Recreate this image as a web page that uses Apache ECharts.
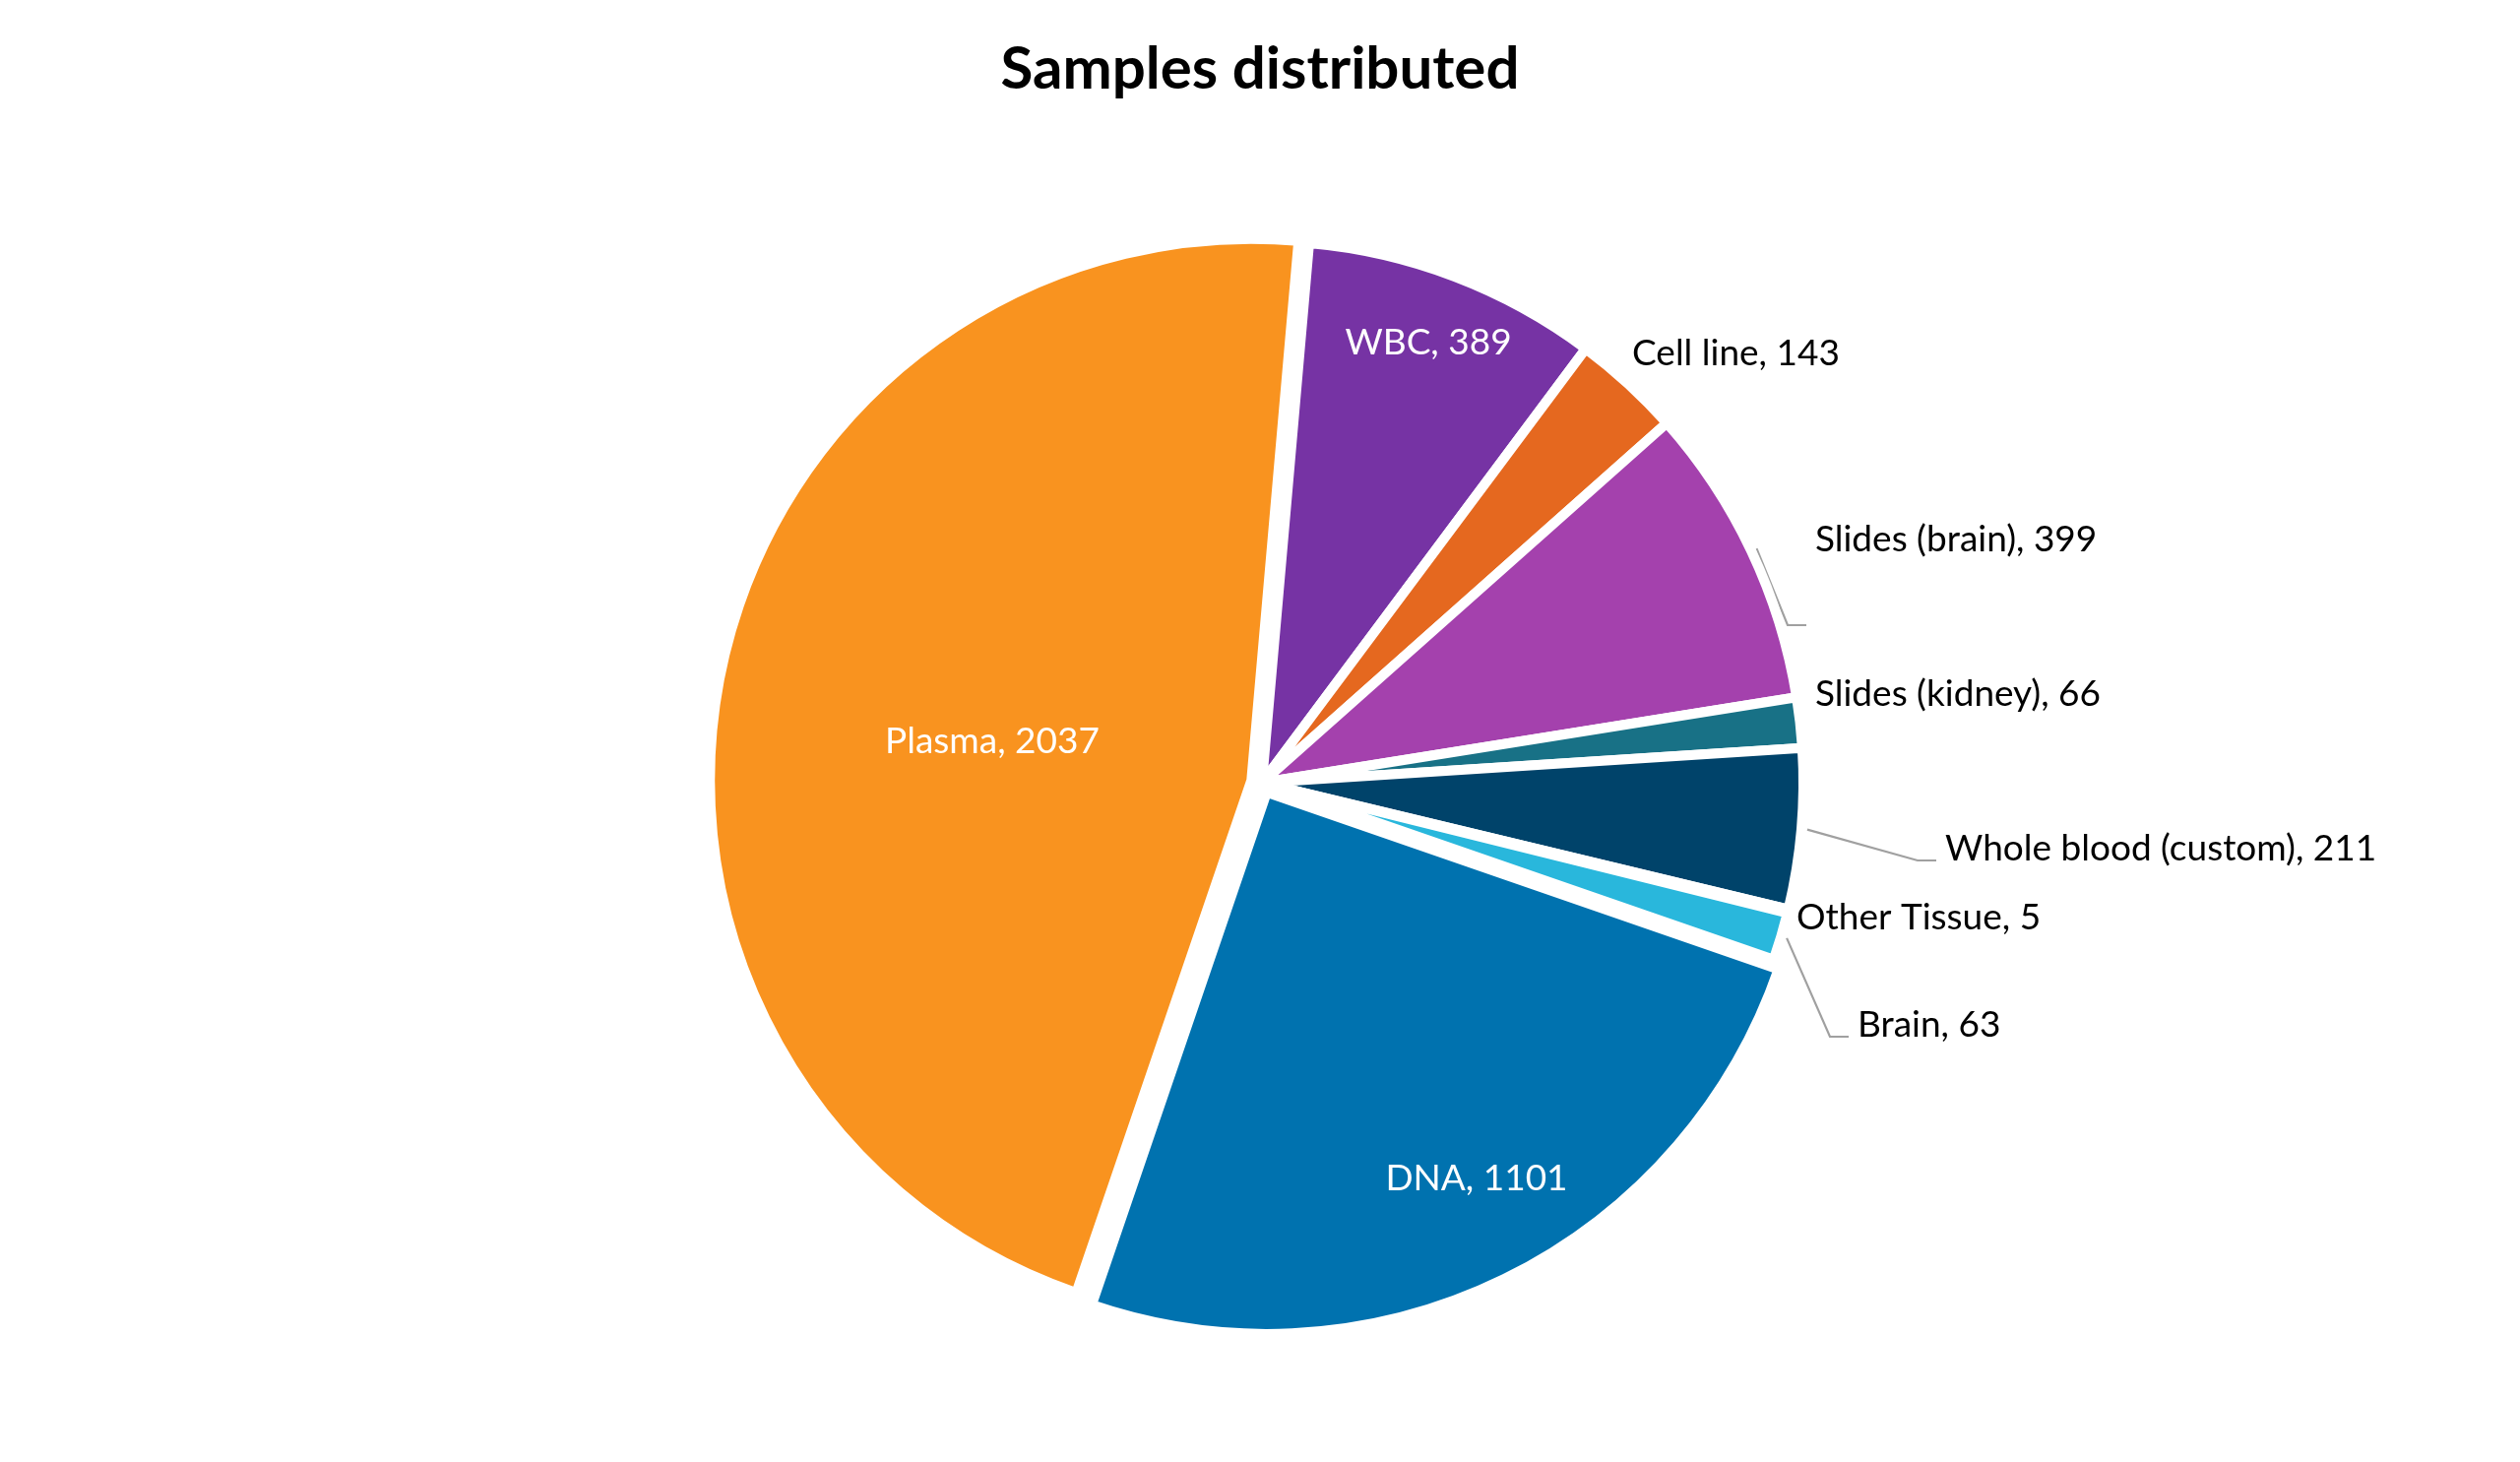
<!DOCTYPE html>
<html>
<head>
<meta charset="utf-8">
<script src="https://cdn.jsdelivr.net/npm/echarts@6/dist/echarts.min.js"></script>
<style>
html,body{margin:0;padding:0;background:#fff;}
#chart{width:2560px;height:1485px;}
</style>
</head>
<body>
<div id="chart"></div>
<script>
// ---- data (clockwise from just right of 12 o'clock) ----
const categories = ['WBC', 'Cell line', 'Slides (brain)', 'Slides (kidney)', 'Whole blood (custom)', 'Other Tissue', 'Brain', 'DNA', 'Plasma'];
const values = [389, 143, 399, 66, 211, 5, 63, 1101, 2037];
const sliceColors = ['#7633A4', '#E5681F', '#A441AD', '#187186', '#00436A', '#9DC3E6', '#29B7DC', '#0072AF', '#F9931F'];
const chartTitle = 'Samples distributed';

const chart = echarts.init(document.getElementById('chart'));

// label placement (left-aligned outside labels, centered inside labels)
const labelAt = {
  'WBC': { x: 1451, y: 348, align: 'center' },
  'Plasma': { x: 1008, y: 753, align: 'center' },
  'DNA': { x: 1500, y: 1197, align: 'center' },
  'Cell line': { x: 1658, y: 359 },
  'Slides (brain)': { x: 1844, y: 548, lineDy: 87 },
  'Slides (kidney)': { x: 1844, y: 705 },
  'Whole blood (custom)': { x: 1976, y: 862, lineDy: 12 },
  'Other Tissue': { x: 1825, y: 932 },
  'Brain': { x: 1887, y: 1041, lineDy: 12 }
};
const insideNames = ['WBC', 'Plasma', 'DNA'];
const withLine = ['Slides (brain)', 'Whole blood (custom)', 'Brain'];
const exploded = ['Plasma', 'DNA'];

const pieCenter = [1282, 795];
const pieRadius = [0, 550];
const pieStart = 85;

// visible slices (no labels)
const sliceData = categories.map((name, i) => ({
  name: name,
  value: values[i],
  selected: exploded.includes(name),
  itemStyle: { color: sliceColors[i] }
}));

// label layer: same geometry, transparent slices
const labelData = categories.map((name, i) => ({
  name: name,
  value: values[i],
  label: insideNames.includes(name)
    ? { position: 'inside', color: '#ffffff' }
    : { position: 'outside', color: '#000000' },
  labelLine: { show: withLine.includes(name) }
}));

chart.setOption({
  backgroundColor: '#ffffff',
  animation: false,
  title: {
    text: chartTitle,
    left: 'center',
    top: 36,
    textStyle: { fontFamily: 'Lato', fontWeight: 'bold', fontSize: 60, color: '#000000' }
  },
  series: [{
    type: 'pie',
    center: pieCenter,
    radius: pieRadius,
    startAngle: pieStart,
    clockwise: true,
    selectedMode: 'multiple',
    selectedOffset: 11,
    silent: true,
    itemStyle: { borderColor: '#ffffff', borderWidth: 10 },
    select: { itemStyle: { borderColor: '#ffffff', borderWidth: 10 } },
    emphasis: { disabled: true },
    label: { show: false },
    labelLine: { show: false },
    data: sliceData
  }, {
    type: 'pie',
    center: pieCenter,
    radius: pieRadius,
    startAngle: pieStart,
    clockwise: true,
    silent: true,
    avoidLabelOverlap: false,
    itemStyle: { color: 'rgba(0,0,0,0)', borderWidth: 0 },
    emphasis: { disabled: true },
    label: {
      show: true,
      formatter: '{b}, {c}',
      fontFamily: 'Lato',
      fontSize: 37
    },
    labelLine: {
      length: 40,
      length2: 20,
      lineStyle: { color: '#A0A0A0', width: 2.2 }
    },
    labelLayout: function (params) {
      const name = categories[params.dataIndex];
      const p = labelAt[name];
      if (!p) return {};
      const res = {
        x: p.x, y: p.y,
        align: p.align || 'left',
        verticalAlign: 'middle'
      };
      if (withLine.includes(name) && params.labelLinePoints) {
        const a = params.labelLinePoints[0];
        const b = params.labelLinePoints[1];
        const dx = b[0] - a[0], dy = b[1] - a[1];
        const len = Math.sqrt(dx * dx + dy * dy) || 1;
        const start = [a[0] + dx / len * 6, a[1] + dy / len * 6];
        const ly = p.y + (p.lineDy || 0);
        res.labelLinePoints = [start, [p.x - 28, ly], [p.x - 9, ly]];
      }
      return res;
    },
    data: labelData
  }]
});
</script>
</body>
</html>
